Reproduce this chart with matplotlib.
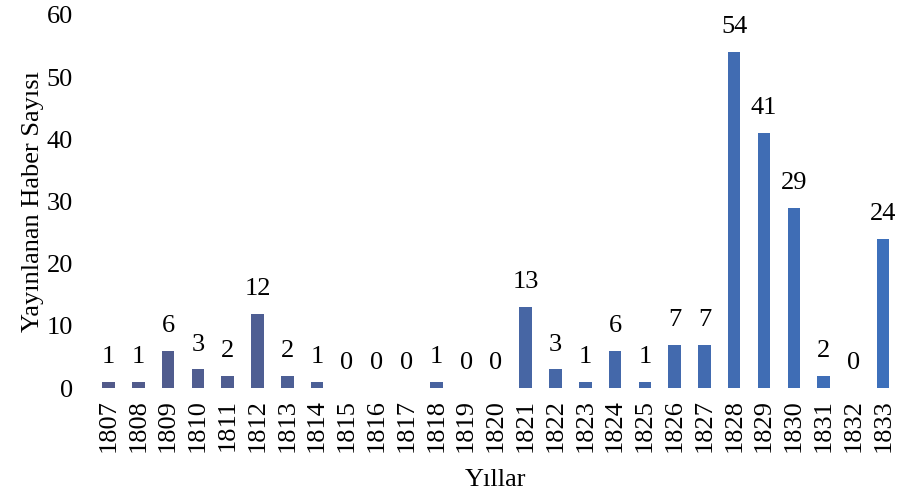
import numpy as np
import matplotlib
matplotlib.use('Agg')
import matplotlib.pyplot as plt
from matplotlib.colors import LinearSegmentedColormap

years = [str(y) for y in range(1807, 1834)]
counts = [1, 1, 6, 3, 2, 12, 2, 1, 0, 0, 0, 1, 0, 0, 13, 3, 1, 6, 1, 7, 7, 54, 41, 29, 2, 0, 24]

plt.rcParams['font.family'] = ['Liberation Serif', 'DejaVu Serif']
fs = 19

fig = plt.figure(figsize=(9.09, 4.97), dpi=100)
ax = fig.add_axes([0.103, 0.219, 0.885, 0.751])

x = np.arange(len(years))
# bars go from a greyish navy on the left to a brighter blue on the right
cmap = LinearSegmentedColormap.from_list('b', ['#525a8a', '#3d70bb'])
cols = [cmap(i / (len(x) - 1)) for i in x]
ax.bar(x, counts, width=0.42, color=cols)

for i, v in enumerate(counts):
    ax.annotate(str(v), (x[i], v), xytext=(0, 10), textcoords='offset points',
                ha='center', va='bottom', fontsize=fs)

ax.set_xlim(-0.5, len(years) - 0.5)
ax.set_ylim(0, 60)
ax.set_yticks(range(0, 61, 10))
ax.set_xticks(x)
ax.set_xticklabels(years, rotation=90)
ax.tick_params(axis='both', length=0, labelsize=fs)
ax.tick_params(axis='y', pad=15)
ax.tick_params(axis='x', pad=8)
for s in ax.spines.values():
    s.set_visible(False)

ax.set_ylabel('Yayınlanan Haber Sayısı', fontsize=fs, labelpad=2)
ax.set_xlabel('Yıllar', fontsize=fs, labelpad=12)

plt.savefig('out.png', dpi=100)
